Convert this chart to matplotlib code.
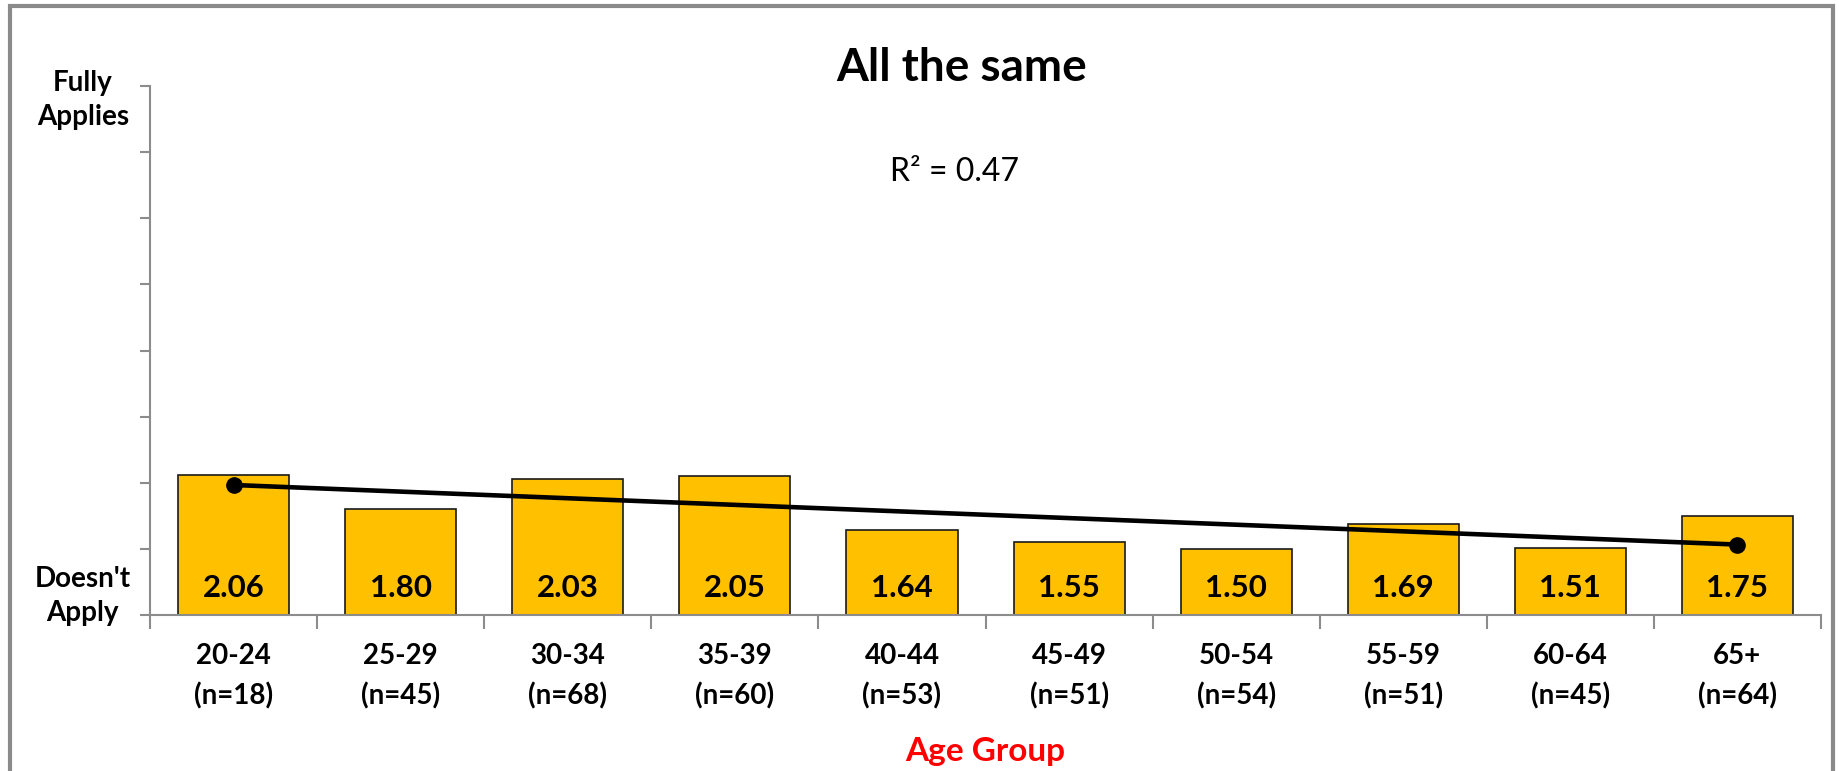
import numpy as np
import matplotlib.pyplot as plt
from matplotlib.patches import Rectangle
from matplotlib.transforms import blended_transform_factory, offset_copy

# Mean scores per age group (1 = doesn't apply, 5 = fully applies)
age_groups = ['20-24', '25-29', '30-34', '35-39', '40-44', '45-49', '50-54', '55-59', '60-64', '65+']
group_sizes = [18, 45, 68, 60, 53, 51, 54, 51, 45, 64]
mean_scores = [2.06, 1.80, 2.03, 2.05, 1.64, 1.55, 1.50, 1.69, 1.51, 1.75]

plt.rcParams['font.family'] = ['Lato', 'DejaVu Sans']

fig = plt.figure(figsize=(18.39, 7.71), dpi=100)
ax = fig.add_axes([0.0816, 0.2023, 0.9086, 0.6861])

x = np.arange(len(age_groups))
ax.bar(x, mean_scores, width=0.665, bottom=0, color='#FFC000', edgecolor='#1a1a1a',
       linewidth=1.2, zorder=2)

# value labels near the bottom of each bar
for xi, v in zip(x, mean_scores):
    ax.text(xi, 1.0, f'{v:.2f}', ha='center', va='bottom', fontsize=22.5,
            fontweight='bold', color='black', zorder=4,
            transform=offset_copy(ax.transData, fig=fig, y=13, units='dots'))

# linear trend across groups
xs = x + 1
slope, intercept = np.polyfit(xs, mean_scores, 1)
fit = slope * xs + intercept
ss_res = np.sum((np.array(mean_scores) - fit) ** 2)
ss_tot = np.sum((np.array(mean_scores) - np.mean(mean_scores)) ** 2)
r2 = 1 - ss_res / ss_tot
ax.plot(x, fit, color='black', linewidth=3.3, marker='o', markersize=11,
        markevery=[0, len(x) - 1], zorder=3, solid_capstyle='round')

ax.set_xlim(-0.5, len(x) - 0.5)
ax.set_ylim(1, 5)

axis_grey = '#8c8c8c'
for side in ['top', 'right']:
    ax.spines[side].set_visible(False)
for side in ['left', 'bottom']:
    ax.spines[side].set_color(axis_grey)
    ax.spines[side].set_linewidth(1.5)

ax.set_yticks(np.arange(1, 5.01, 0.5))
ax.set_yticklabels([])
ax.tick_params(axis='y', length=7, width=1.5, color=axis_grey, direction='out')

ax.set_xticks(x)
ax.set_xticklabels([f'{g}\n(n={n})' for g, n in zip(age_groups, group_sizes)],
                   fontsize=20, fontweight='bold', linespacing=1.6)
ax.set_xticks(np.arange(-0.5, len(x), 1), minor=True)
ax.tick_params(axis='x', which='major', length=0, pad=20)
ax.tick_params(axis='x', which='minor', length=10, width=1.5, color=axis_grey, direction='out')

# end labels of the rating scale
ytrans = blended_transform_factory(fig.transFigure, ax.transData)
ax.text(0.045, 5, 'Fully\nApplies', transform=offset_copy(ytrans, fig=fig, y=-14, units='dots'),
        ha='center', va='center', fontsize=20, fontweight='bold', linespacing=1.4)
ax.text(0.045, 1, "Doesn't\nApply", transform=offset_copy(ytrans, fig=fig, y=19, units='dots'),
        ha='center', va='center', fontsize=20, fontweight='bold', linespacing=1.35)

fig.text(0.523, 1 - 68 / 771, 'All the same', ha='center', va='center',
         fontsize=33, fontweight='bold')
fig.text(0.519, 1 - 172 / 771, f'R² = {r2:.2f}', ha='center', va='center', fontsize=23)
ax.set_xlabel('Age Group', fontsize=24, fontweight='bold', color='#ff0000', labelpad=20)

# chart frame
fig.patches.append(Rectangle((10 / 1839, -0.05), 1823 / 1839, 1 - 6 / 771 + 0.05,
                             transform=fig.transFigure, fill=False,
                             edgecolor='#8a8a8a', linewidth=3))

fig.savefig('out.png', dpi=100)
